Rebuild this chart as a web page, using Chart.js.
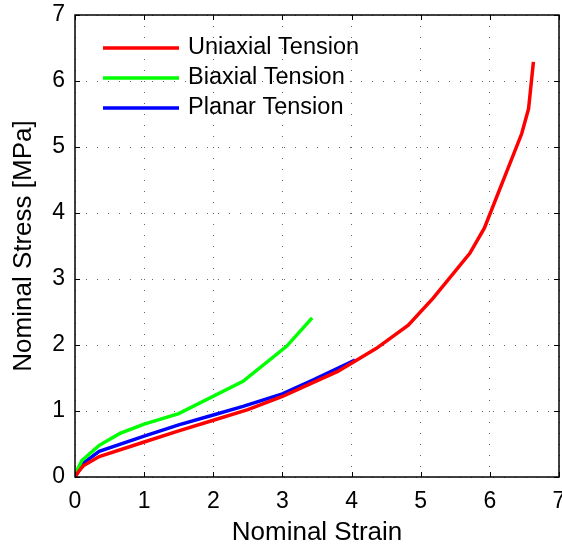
<!DOCTYPE html>
<html>
<head>
<meta charset="utf-8">
<script src="https://cdn.jsdelivr.net/npm/chart.js@4/dist/chart.umd.min.js"></script>
<style>
  html, body { margin: 0; padding: 0; background: #fff; }
  canvas { display: block; }
</style>
</head>
<body>
<canvas id="chart1" width="562" height="548"></canvas>
<script>
// stress-strain curves for the three test modes
let seriesNames = ['Uniaxial Tension', 'Biaxial Tension', 'Planar Tension'];
let seriesColors = ['#ff0000', '#00ff00', '#0000ff'];

let uniaxialStrain = [0, 0.05, 0.12, 0.35, 1.0, 1.5, 2.0, 2.5, 3.0, 3.4, 3.8, 4.36, 4.82, 5.18, 5.71, 5.92, 6.46, 6.56, 6.63];
let uniaxialStress = [0, 0.08, 0.17, 0.31, 0.53, 0.70, 0.86, 1.02, 1.22, 1.41, 1.60, 1.95, 2.30, 2.71, 3.39, 3.77, 5.20, 5.58, 6.29];

let biaxialStrain = [0, 0.02, 0.1, 0.35, 0.65, 1.0, 1.5, 2.43, 3.06, 3.43];
let biaxialStress = [0, 0.08, 0.25, 0.48, 0.66, 0.80, 0.96, 1.45, 1.98, 2.41];

let planarStrain = [0, 0.05, 0.12, 0.35, 1.0, 1.5, 2.0, 2.43, 3.0, 3.44, 4.05];
let planarStress = [0, 0.09, 0.21, 0.39, 0.62, 0.79, 0.94, 1.07, 1.26, 1.47, 1.77];

let strainTicks = [0, 1, 2, 3, 4, 5, 6, 7];
let stressTicks = [0, 1, 2, 3, 4, 5, 6, 7];

function toPoints(xs, ys){
    let pts = [];
    for(let i = 0; i < xs.length; i++){
        pts.push({x: xs[i], y: ys[i]});
    }
    return pts;
}

let curves = [
    toPoints(uniaxialStrain, uniaxialStress),
    toPoints(biaxialStrain, biaxialStress),
    toPoints(planarStrain, planarStress)
];

let chartDataset = [];
for(let i = 0; i < curves.length; i++){
    chartDataset.push({
        label: seriesNames[i],
        data: curves[i],
        borderColor: seriesColors[i],
        backgroundColor: seriesColors[i],
        borderWidth: 3.5,
        pointRadius: 0,
        tension: 0,
        fill: false
    });
}

const FONT = "'Liberation Sans', Arial, Helvetica, sans-serif";

// box around the axes, inward tick marks and the legend in the top-left corner
const boxPlugin = {
    id: 'boxPlugin',
    afterDraw(chart){
        const ctx = chart.ctx;
        const a = chart.chartArea;
        const xs = chart.scales.x;
        const ys = chart.scales.y;
        ctx.save();
        ctx.strokeStyle = '#000';
        ctx.lineWidth = 1.5;
        ctx.strokeRect(a.left, a.top, a.right - a.left, a.bottom - a.top);

        ctx.lineWidth = 1;
        const tl = 5;
        ctx.beginPath();
        strainTicks.forEach(function(v){
            const px = Math.round(xs.getPixelForValue(v)) + 0.5;
            ctx.moveTo(px, a.bottom); ctx.lineTo(px, a.bottom - tl);
            ctx.moveTo(px, a.top); ctx.lineTo(px, a.top + tl);
        });
        stressTicks.forEach(function(v){
            const py = Math.round(ys.getPixelForValue(v)) + 0.5;
            ctx.moveTo(a.left, py); ctx.lineTo(a.left + tl, py);
            ctx.moveTo(a.right, py); ctx.lineTo(a.right - tl, py);
        });
        ctx.stroke();

        // legend
        ctx.font = '23.5px ' + FONT;
        ctx.textBaseline = 'middle';
        ctx.textAlign = 'left';
        chart.data.datasets.forEach(function(ds, i){
            const y = 48 + i * 30;
            ctx.strokeStyle = ds.borderColor;
            ctx.lineWidth = 3.5;
            ctx.beginPath();
            ctx.moveTo(103, y);
            ctx.lineTo(179, y);
            ctx.stroke();
            ctx.fillStyle = '#000';
            ctx.fillText(ds.label, 188, y);
        });
        ctx.restore();
    }
};

chart1Ctx = document.querySelector('canvas#chart1').getContext('2d');

let chart1 = new Chart(chart1Ctx, {
    type: 'line',
    data: {
        datasets: chartDataset
    },
    plugins: [boxPlugin],
    options: {
        responsive: false,
        animation: false,
        layout: {
            padding: {left: 0, top: 15, right: 3, bottom: 0}
        },
        plugins: {
            legend: { display: false },
            tooltip: { enabled: false }
        },
        scales: {
            x: {
                type: 'linear',
                min: 0,
                max: 7,
                afterBuildTicks: function(scale){
                    scale.ticks = strainTicks.map(function(v){ return {value: v}; });
                },
                afterFit: function(scale){
                    scale.height = 71;
                    scale.paddingLeft = 0;
                    scale.paddingRight = 0;
                },
                grid: {
                    color: 'rgba(0,0,0,0.6)',
                    lineWidth: 1,
                    drawTicks: false
                },
                border: { display: false, dash: [1, 10] },
                ticks: {
                    color: '#000',
                    padding: 11,
                    maxRotation: 0,
                    font: { family: FONT, size: 23 }
                },
                title: {
                    display: true,
                    text: 'Nominal Strain',
                    color: '#000',
                    padding: {top: 0, bottom: 2},
                    font: { family: FONT, size: 26, lineHeight: 1 }
                }
            },
            y: {
                type: 'linear',
                min: 0,
                max: 7,
                afterBuildTicks: function(scale){
                    scale.ticks = stressTicks.map(function(v){ return {value: v}; });
                },
                afterFit: function(scale){
                    scale.width = 75;
                    scale.paddingTop = 0;
                    scale.paddingBottom = 0;
                },
                grid: {
                    color: 'rgba(0,0,0,0.6)',
                    lineWidth: 1,
                    drawTicks: false
                },
                border: { display: false, dash: [1, 10] },
                ticks: {
                    color: '#000',
                    padding: 10,
                    font: { family: FONT, size: 23 }
                },
                title: {
                    display: true,
                    text: 'Nominal Stress [MPa]',
                    color: '#000',
                    padding: {top: 11, bottom: 0},
                    font: { family: FONT, size: 26, lineHeight: 1 }
                }
            }
        }
    }
});
</script>
</body>
</html>
